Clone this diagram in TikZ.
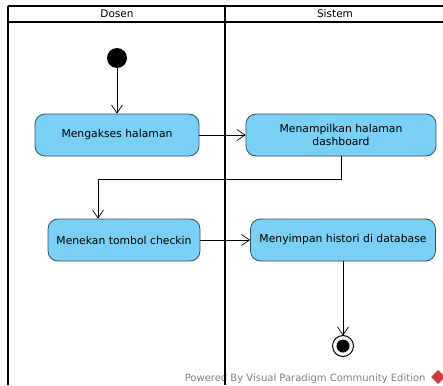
\documentclass[tikz,border=0pt]{standalone}
\usepackage{fontspec}
\setmainfont{DejaVu Sans}
\usetikzlibrary{arrows.meta,positioning}
\definecolor{actfill}{HTML}{7ACFF5}
\definecolor{actline}{HTML}{34505E}
\definecolor{vpred}{HTML}{D0393E}
\tikzset{
  activity/.style={draw=actline, fill=actfill, rounded corners=10pt, minimum height=42pt,
    font=\fontsize{10.8}{12.5}\selectfont, align=center, line width=0.8pt, inner sep=2pt},
  flow/.style={-{Straight Barb[length=8pt,width=11pt]}, line width=0.7pt},
  lanehead/.style={font=\fontsize{10.5}{12}\selectfont}
}

\begin{document}
\begin{tikzpicture}[x=1pt,y=-1pt]
			\useasboundingbox (0,0) rectangle (443,385);
			%%%%% START %%%%%
			\node[anchor=base east, text=black!50, font=\fontsize{10}{12}\selectfont] (vp) at (429,381) {Powered By Visual Paradigm Community Edition};
			\fill[vpred] (438,370) -- (445,377) -- (438,384) -- (431,377) -- cycle;
			
			% lanes
			\draw[line width=1.2pt] (8,6) -- (443,6);
			\draw[line width=1.8pt] (8,22) -- (443,22);
			\draw[line width=1.2pt] (8,6) -- (8,385);
			\draw[line width=1.8pt] (225,6) -- (225,385);
			\node[lanehead] (dosen) at (117,14) {Dosen};
			\node[lanehead] (sistem) at (335,14) {Sistem};
			
			% activities
			\fill (117,58) circle (10) coordinate (start);
			\node[activity, minimum width=164pt] (akses) at (117,135) {Mengakses halaman};
			\node[activity, minimum width=190pt] (tampil) at (341,135) {Menampilkan halaman\\dashboard};
			\node[activity, minimum width=152pt] (tekan) at (124,240) {Menekan tombol checkin};
			\node[activity, minimum width=185pt] (simpan) at (343,240) {Menyimpan histori di database};
			\draw[line width=1pt] (343,346) circle (10.5);
			\fill (343,346) circle (6.5);
			\coordinate (finish) at (343,335.5);
			
			% flows
			\draw[flow] (start) -- (akses);
			\draw[flow] (akses) -- (tampil);
			\draw[flow] (tampil.south) -- ++(0,23) -| ([xshift=-26pt]tekan.north);
			\draw[flow] (tekan) -- (simpan);
			\draw[flow] (simpan.south) -- (finish);
			%%%%% END %%%%%
		\end{tikzpicture}
\end{document}
